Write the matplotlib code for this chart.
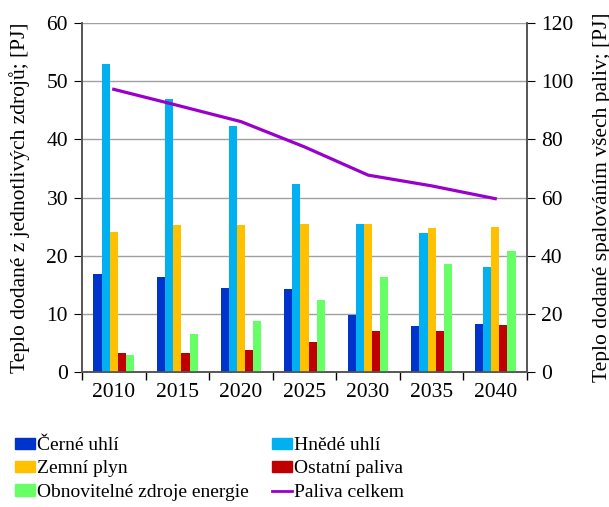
import numpy as np
import matplotlib
matplotlib.use("Agg")
import matplotlib.pyplot as plt
from matplotlib.patches import Patch
from matplotlib.lines import Line2D

years = ["2010", "2015", "2020", "2025", "2030", "2035", "2040"]
cerne_uhli = [16.8, 16.3, 14.5, 14.3, 9.8, 7.9, 8.2]
hnede_uhli = [53.0, 46.9, 42.3, 32.4, 25.4, 23.9, 18.1]
zemni_plyn = [24.0, 25.3, 25.3, 25.4, 25.4, 24.7, 25.0]
ostatni_paliva = [3.2, 3.2, 3.8, 5.2, 7.0, 7.0, 8.1]
obnovitelne = [3.0, 6.6, 8.7, 12.3, 16.4, 18.6, 20.8]
paliva_celkem = [97.2, 91.7, 86.1, 77.4, 67.7, 64.0, 59.6]

names = ["Černé uhlí", "Hnědé uhlí", "Zemní plyn", "Ostatní paliva",
         "Obnovitelné zdroje energie"]
colors = ["#0033CC", "#00B0F0", "#FFC000", "#C00000", "#66FF66"]
line_color = "#9900CC"

plt.rcParams["font.family"] = ["Liberation Serif", "DejaVu Serif"]
fs = 15.5

fig = plt.figure(figsize=(6.09, 5.07), dpi=100)
ax = fig.add_axes([0.1346, 0.2663, 0.7308, 0.6883])
ax2 = ax.twinx()

x = np.arange(len(years))
w = 0.128
series = [cerne_uhli, hnede_uhli, zemni_plyn, ostatni_paliva, obnovitelne]
for i, (vals, c) in enumerate(zip(series, colors)):
    ax.bar(x + (i - 2) * w, vals, width=w, color=c, zorder=3)

ax2.plot(x, paliva_celkem, color=line_color, lw=2.3, zorder=4)

ax.set_xlim(-0.5, len(years) - 0.5)
ax.set_ylim(0, 60)
ax2.set_ylim(0, 120)
ax.set_yticks(range(0, 61, 10))
ax2.set_yticks(range(0, 121, 20))
ax.grid(axis="y", color="#A0A0A0", lw=1, zorder=0)

ax.set_xticks(x)
ax.set_xticklabels(years)
ax.set_xticks(np.arange(-0.5, len(years), 1), minor=True)
ax.tick_params(axis="x", which="major", length=0, labelsize=fs, pad=8)
ax.tick_params(axis="x", which="minor", length=6, direction="out", width=1)
ax.tick_params(axis="y", labelsize=fs, length=6, direction="out", pad=4)
ax2.tick_params(axis="y", labelsize=fs, length=6, direction="out", pad=4)

for a in (ax, ax2):
    a.spines["top"].set_visible(False)
    for s in ("left", "right", "bottom"):
        a.spines[s].set_color("#555555")
        a.spines[s].set_linewidth(1.2)

ax.set_ylabel("Teplo dodané z jednotlivých zdrojů; [PJ]", fontsize=fs, labelpad=12)
# in the original the right label runs off the edge of the image as well
ax2.set_ylabel("Teplo dodané spalováním všech paliv; [PJ]", fontsize=fs,
               rotation=90, labelpad=14)

handles = [Patch(color=colors[0]), Patch(color=colors[2]), Patch(color=colors[4]),
           Patch(color=colors[1]), Patch(color=colors[3]),
           Line2D([0], [0], color=line_color, lw=2)]
labels = [names[0], names[2], names[4], names[1], names[3], "Paliva celkem"]
fig.legend(handles, labels, ncol=2, loc="upper left",
           bbox_to_anchor=(0.024, 0.138), frameon=False, fontsize=14,
           handlelength=1.03, handleheight=0.5, handletextpad=0.1,
           columnspacing=1.24, labelspacing=0.33, borderaxespad=0,
           borderpad=0)

fig.savefig("out.png", dpi=100)
